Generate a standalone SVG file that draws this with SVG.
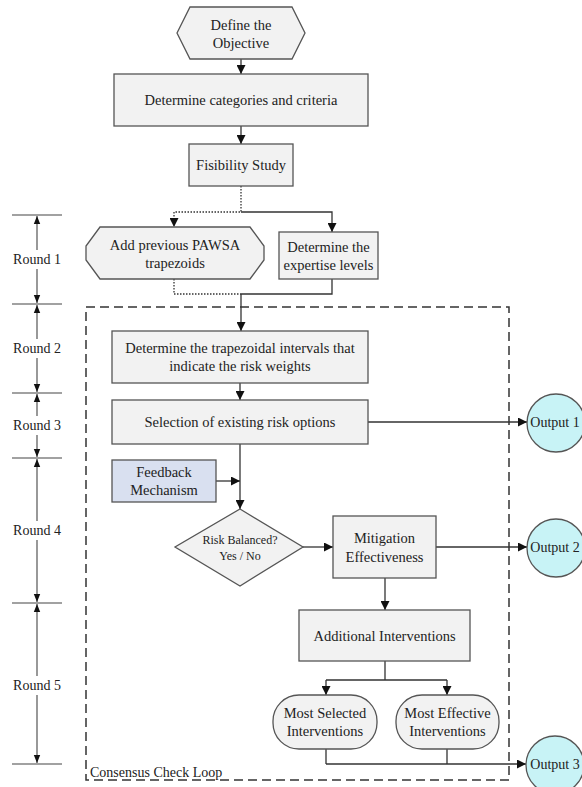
<svg xmlns="http://www.w3.org/2000/svg" width="582" height="787" viewBox="0 0 582 787" font-family="'Liberation Serif', 'Times New Roman', serif">
<style>
text{font-family:'Liberation Serif','Times New Roman',serif;fill:#222;text-anchor:middle;dominant-baseline:central}
.n{font-size:14.5px}
.s{font-size:12px}
.r{font-size:14px}
.box{fill:#f2f2f2;stroke:#555;stroke-width:1.3}
.fb{fill:#d9e0f0;stroke:#555;stroke-width:1.3}
.out{fill:#c8f3f6;stroke:#555;stroke-width:1.3}
.ln{fill:none;stroke:#333;stroke-width:1.3}
.dot{fill:none;stroke:#333;stroke-width:1.3;stroke-dasharray:1.5,1.5}
.arr{marker-end:url(#ah)}
.dim{fill:none;stroke:#444;stroke-width:1.1}
.tick{stroke:#444;stroke-width:1.1}
.loop{fill:none;stroke:#333;stroke-width:1.5;stroke-dasharray:9,5}
</style>
<defs>
<marker id="ah" viewBox="0 0 10 10" refX="10" refY="5" markerWidth="9" markerHeight="9" markerUnits="userSpaceOnUse" orient="auto"><path d="M0,0 L10,5 L0,10 z" fill="#111"/></marker>
<marker id="ds" viewBox="0 0 10 10" refX="10" refY="5" markerWidth="8" markerHeight="8" markerUnits="userSpaceOnUse" orient="auto-start-reverse"><path d="M0,1 L10,5 L0,9 z" fill="#111"/></marker>
</defs>
<rect width="582" height="787" fill="#fff"/>

<g id="ruler">
<line class="tick" x1="12" y1="215" x2="62" y2="215"/>
<line class="tick" x1="12" y1="304" x2="62" y2="304"/>
<line class="tick" x1="12" y1="393" x2="62" y2="393"/>
<line class="tick" x1="12" y1="458" x2="62" y2="458"/>
<line class="tick" x1="12" y1="603" x2="62" y2="603"/>
<line class="tick" x1="12" y1="764" x2="62" y2="764"/>
<path class="dim" marker-start="url(#ds)" d="M37,216 V250"/>
<path class="dim" marker-end="url(#ds)" d="M37,269 V303"/>
<path class="dim" marker-start="url(#ds)" d="M37,305 V339"/>
<path class="dim" marker-end="url(#ds)" d="M37,358 V392"/>
<path class="dim" marker-start="url(#ds)" d="M37,394 V416"/>
<path class="dim" marker-end="url(#ds)" d="M37,435 V457"/>
<path class="dim" marker-start="url(#ds)" d="M37,459 V521"/>
<path class="dim" marker-end="url(#ds)" d="M37,540 V602"/>
<path class="dim" marker-start="url(#ds)" d="M37,604 V676"/>
<path class="dim" marker-end="url(#ds)" d="M37,695 V763"/>
<text class="r" x="37" y="259" font-family="Liberation Serif, serif">Round 1</text>
<text class="r" x="37" y="348" font-family="Liberation Serif, serif">Round 2</text>
<text class="r" x="37" y="425" font-family="Liberation Serif, serif">Round 3</text>
<text class="r" x="37" y="530" font-family="Liberation Serif, serif">Round 4</text>
<text class="r" x="37" y="685" font-family="Liberation Serif, serif">Round 5</text>
</g>

<g id="loop">
<rect class="loop" x="86" y="307" width="423" height="473"/>
<text class="r" x="90" y="772" style="text-anchor:start">Consensus Check Loop</text>
</g>

<g id="connectors">
<path class="ln arr" d="M241,59 V74"/>
<path class="ln arr" d="M241,126 V144"/>
<path class="dot" d="M241,186 V212 H174"/>
<path class="dot arr" d="M174,212 V227"/>
<path class="ln arr" d="M241,212 H332 V232"/>
<path class="dot" d="M174,279 V294 H241"/>
<path class="ln" d="M332,279 V294 H241"/>
<path class="ln arr" d="M241,294 V331"/>
<path class="ln arr" d="M240,383 V400"/>
<path class="ln arr" d="M368,422 H527"/>
<path class="ln arr" d="M240,444 V509"/>
<path class="ln arr" d="M216,481 H240"/>
<path class="ln arr" d="M303,547 H333"/>
<path class="ln arr" d="M436,547 H527"/>
<path class="ln arr" d="M385,578 V610"/>
<path class="ln" d="M385,661 V680 M326,680 H447"/>
<path class="ln arr" d="M326,680 V695"/>
<path class="ln arr" d="M447,680 V695"/>
<path class="ln" d="M326,749 V764 M447,749 V764"/>
<path class="ln arr" d="M326,764 H526"/>
</g>

<g id="define-objective">
<polygon class="box" points="177,33 190,7 292,7 305,33 292,59 190,59"/>
<text class="n" x="241" y="25">Define the</text>
<text class="n" x="241" y="43">Objective</text>
</g>
<g id="categories">
<rect class="box" x="114" y="74" width="254" height="52"/>
<text class="n" x="241" y="100">Determine categories and criteria</text>
</g>
<g id="feasibility">
<rect class="box" x="189" y="144" width="104" height="42"/>
<text class="n" x="241" y="165">Fisibility Study</text>
</g>
<g id="previous-pawsa">
<polygon class="box" points="100,227 250,227 264,246 264,260 250,279 100,279 86,260 86,246"/>
<text class="n" x="175" y="245">Add previous PAWSA</text>
<text class="n" x="175" y="263">trapezoids</text>
</g>
<g id="expertise">
<rect class="box" x="279" y="232" width="99" height="47"/>
<text class="n" x="328.5" y="247">Determine the</text>
<text class="n" x="328.5" y="265">expertise levels</text>
</g>
<g id="trapezoidal">
<rect class="box" x="112" y="331" width="256" height="52"/>
<text class="n" x="240" y="348">Determine the trapezoidal intervals that</text>
<text class="n" x="240" y="366">indicate the risk weights</text>
</g>
<g id="selection">
<rect class="box" x="112" y="400" width="256" height="44"/>
<text class="n" x="240" y="422">Selection of existing risk options</text>
</g>
<g id="feedback">
<rect class="fb" x="112" y="460" width="104" height="42"/>
<text class="n" x="164" y="472">Feedback</text>
<text class="n" x="164" y="490">Mechanism</text>
</g>
<g id="risk-balanced">
<polygon class="box" points="240,509 303,547 240,586 175,547"/>
<text class="s" x="240" y="540">Risk Balanced?</text>
<text class="s" x="240" y="556">Yes / No</text>
</g>
<g id="mitigation">
<rect class="box" x="333" y="516" width="103" height="62"/>
<text class="n" x="384.5" y="538">Mitigation</text>
<text class="n" x="384.5" y="557">Effectiveness</text>
</g>
<g id="additional">
<rect class="box" x="299" y="610" width="171" height="51"/>
<text class="n" x="384.5" y="636">Additional Interventions</text>
</g>
<g id="most-selected">
<rect class="box" x="273" y="695" width="104" height="54" rx="26" ry="26"/>
<text class="n" x="325" y="713">Most Selected</text>
<text class="n" x="325" y="731">Interventions</text>
</g>
<g id="most-effective">
<rect class="box" x="396" y="695" width="103" height="54" rx="26" ry="26"/>
<text class="n" x="447.5" y="713">Most Effective</text>
<text class="n" x="447.5" y="731">Interventions</text>
</g>
<g id="output-1">
<circle class="out" cx="556" cy="423" r="29"/>
<text class="r" x="555" y="422">Output 1</text>
</g>
<g id="output-2">
<circle class="out" cx="556" cy="548" r="29"/>
<text class="r" x="555" y="547">Output 2</text>
</g>
<g id="output-3">
<circle class="out" cx="555" cy="765" r="29"/>
<text class="r" x="555" y="764">Output 3</text>
</g>
</svg>
